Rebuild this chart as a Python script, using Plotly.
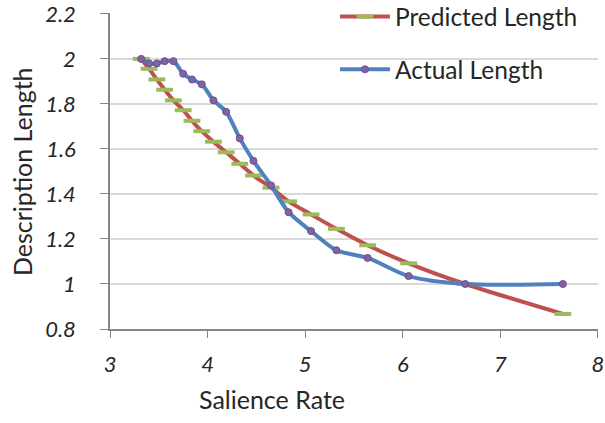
import plotly.graph_objects as go

salience = [3.32, 3.40, 3.48, 3.56, 3.65, 3.75, 3.84, 3.94, 4.06, 4.19, 4.33, 4.47,
            4.65, 4.83, 5.06, 5.32, 5.64, 6.06, 6.64, 7.64]
predicted = [2.00, 1.956, 1.909, 1.863, 1.816, 1.772, 1.725, 1.679, 1.632, 1.585, 1.534, 1.482,
             1.428, 1.367, 1.309, 1.245, 1.172, 1.092, 1.00, 0.867]
actual = [2.00, 1.98, 1.98, 1.99, 1.99, 1.934, 1.909, 1.887, 1.816, 1.765, 1.647, 1.547,
          1.438, 1.319, 1.235, 1.150, 1.116, 1.035, 1.00, 1.00]

x_ticks = [3, 4, 5, 6, 7, 8]
y_ticks = [0.8, 1.0, 1.2, 1.4, 1.6, 1.8, 2.0, 2.2]
y_labels = ["0.8", "1", "1.2", "1.4", "1.6", "1.8", "2", "2.2"]

FONT = "Lato"
TXT = "#262626"

fig = go.Figure()
fig.add_trace(go.Scatter(
    x=salience, y=predicted, name="Predicted Length", mode="lines+markers",
    line=dict(color="#C0504D", width=4, shape="spline", smoothing=0.8),
    marker=dict(symbol="line-ew", size=12, line=dict(color="#9BBB59", width=4)),
    legendgroup="p",
))
fig.add_trace(go.Scatter(
    x=salience, y=actual, name="Actual Length", mode="lines+markers",
    line=dict(color="#4F81BD", width=4, shape="spline", smoothing=0.8),
    marker=dict(symbol="circle", size=7, color="#8064A2", line=dict(color="#6A4C93", width=1)),
    legendgroup="a",
))

fig.update_layout(
    width=605, height=423,
    margin=dict(l=110, r=7, t=13, b=94, autoexpand=False),
    paper_bgcolor="white", plot_bgcolor="white",
    font=dict(family=FONT, color=TXT),
    showlegend=True,
    legend=dict(x=0.461, y=1.060, xanchor="left", yanchor="top",
                bgcolor="rgba(0,0,0,0)", font=dict(size=24.5, family=FONT, color=TXT),
                tracegroupgap=18, itemwidth=50),
    xaxis=dict(range=[3, 8.0001], tickvals=x_ticks, ticktext=[f"<i>{v}</i>" for v in x_ticks],
               showgrid=False, zeroline=False, showline=True, linecolor="#868686", linewidth=1.5,
               ticks="outside", ticklen=7, tickcolor="#868686", ticklabelstandoff=8,
               automargin=False, ticklabeloverflow="allow",
               tickfont=dict(size=22, family=FONT, color=TXT)),
    yaxis=dict(range=[0.8, 2.204], tickvals=y_ticks, ticktext=[f"<i>{v}</i>" for v in y_labels],
               showgrid=True, gridcolor="#D9D9D9", gridwidth=1.5, zeroline=False,
               showline=True, linecolor="#868686", linewidth=1.5,
               ticks="outside", ticklen=8, tickcolor="#868686", ticklabelstandoff=20,
               automargin=False, ticklabeloverflow="allow",
               tickfont=dict(size=22, family=FONT, color=TXT)),
    annotations=[
        dict(text="Salience Rate", xref="paper", yref="paper", x=0.331, y=-0.22,
             xanchor="center", yanchor="middle", showarrow=False,
             font=dict(size=25, family=FONT, color=TXT)),
        dict(text="Description Length", xref="paper", yref="paper", x=-0.180, y=0.497,
             xanchor="center", yanchor="middle", textangle=-90, showarrow=False,
             font=dict(size=25, family=FONT, color=TXT)),
    ],
)

fig.write_html("out.html", config={"displayModeBar": False},
               post_script="document.body.style.margin='0';")
